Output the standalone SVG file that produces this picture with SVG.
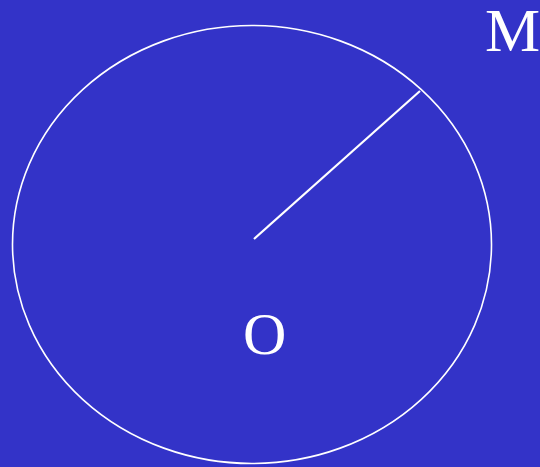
<svg xmlns="http://www.w3.org/2000/svg" width="540" height="467" viewBox="0 0 540 467">
<style>
.lbl{font-family:"Liberation Serif","Times New Roman",serif;fill:#ffffff}
</style>
<rect x="0" y="0" width="540" height="467" fill="#3333c8"/>
<g id="circle">
<ellipse cx="252" cy="244.5" rx="239.5" ry="219" fill="none" stroke="#ffffff" stroke-width="1.6"/>
</g>
<g id="connectors">
<line x1="254" y1="239" x2="420" y2="91" stroke="#ffffff" stroke-width="2.2"/>
</g>
<g id="label-O"><text class="lbl" x="243" y="354" font-size="60">O</text></g>
<g id="label-M"><text class="lbl" x="485" y="51" font-size="62">M</text></g>
</svg>
